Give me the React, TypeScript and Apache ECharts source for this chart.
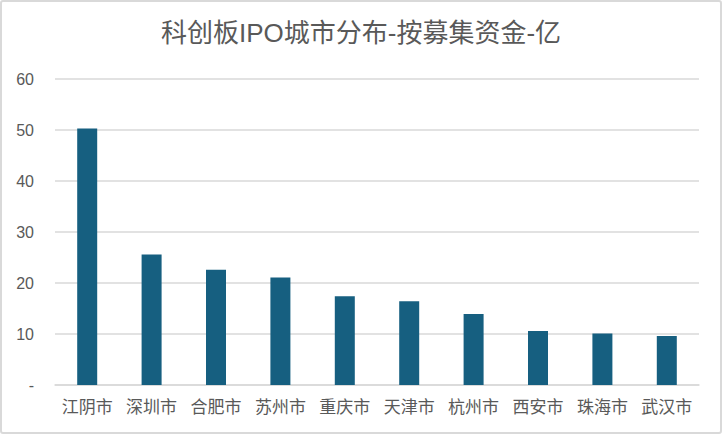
import React, { useEffect, useRef } from "react";
import * as echarts from "echarts";

const titleText = "科创板IPO城市分布-按募集资金-亿";
const cities = ["江阴市", "深圳市", "合肥市", "苏州市", "重庆市", "天津市", "杭州市", "西安市", "珠海市", "武汉市"];
const amounts = [50.3, 25.6, 22.6, 21.1, 17.4, 16.4, 13.9, 10.6, 10.1, 9.6];
const yTicks = [0, 10, 20, 30, 40, 50, 60];

const FONT = "'Liberation Sans', Arial, 'Noto Sans CJK SC', sans-serif";

export default function App() {
  const ref = useRef<HTMLDivElement>(null);
  useEffect(() => {
    if (!ref.current) return;
    const chart = echarts.init(ref.current, null, { renderer: "svg" });
    chart.setOption({
      animation: false,
      backgroundColor: "#ffffff",
      title: {
        text: titleText,
        left: "center",
        top: 20,
        padding: 0,
        textStyle: { fontSize: 26, fontWeight: "normal", color: "#595959", fontFamily: FONT },
      },
      graphic: [
        {
          type: "rect",
          shape: { x: 1, y: 1, width: 720, height: 432, r: 2 },
          style: { fill: "none", stroke: "#d9d9d9", lineWidth: 2 },
          silent: true,
        },
      ],
      grid: { left: 55, right: 23, top: 79, bottom: 49, containLabel: false },
      xAxis: {
        type: "category",
        data: cities,
        axisLine: { show: true, lineStyle: { color: "#d9d9d9", width: 1.5 } },
        axisTick: { show: false },
        axisLabel: { color: "#595959", fontSize: 17, margin: 14, fontFamily: FONT, interval: 0 },
      },
      yAxis: {
        type: "value",
        min: yTicks[0],
        max: yTicks[yTicks.length - 1],
        interval: 10,
        axisLine: { show: false },
        axisTick: { show: false },
        splitLine: { show: true, lineStyle: { color: "#d9d9d9", width: 1.5 } },
        axisLabel: {
          color: "#595959",
          fontSize: 16,
          margin: 21,
          fontFamily: FONT,
          formatter: (v: number) => (v === 0 ? "-" : String(v)),
        },
      },
      series: [
        {
          type: "bar",
          data: amounts,
          barWidth: 20,
          itemStyle: { color: "#165f80" },
        },
      ],
    });
    return () => chart.dispose();
  }, []);
  return (
    <div
      ref={ref}
      style={{ position: "fixed", left: 0, top: 0, width: 722, height: 434 }}
    />
  );
}
